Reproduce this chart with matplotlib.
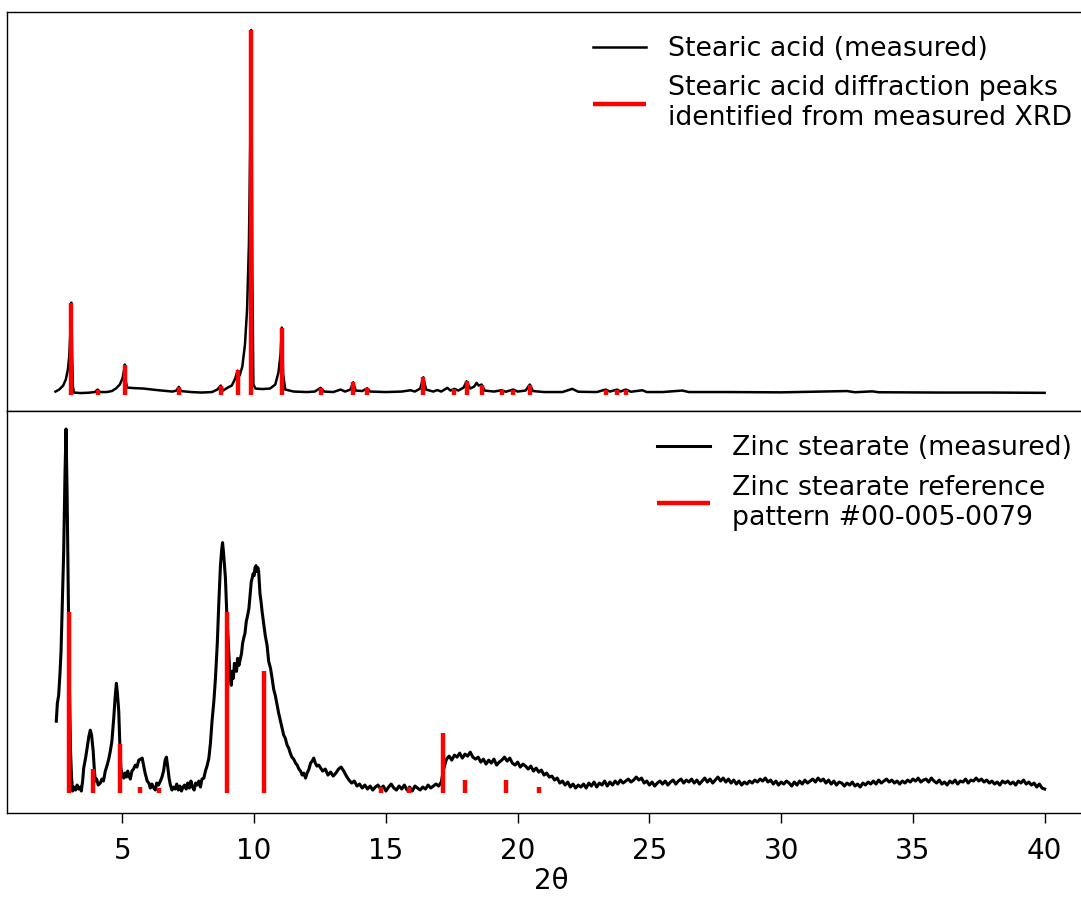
import numpy as np
import matplotlib.pyplot as plt

plt.rcParams['font.family'] = 'DejaVu Sans'
plt.rcParams['font.size'] = 20

# Stearic acid, measured pattern (2theta, intensity in arbitrary units)
sa_x = [2.46, 2.6, 2.75, 2.85, 2.93, 2.98, 3.02, 3.06, 3.09, 3.12, 3.16, 3.4, 3.7, 3.95,
        4.06, 4.15, 4.4, 4.6, 4.75, 4.9, 5.0, 5.06, 5.09, 5.12, 5.18, 5.4, 5.8, 6.3,
        6.9, 7.05, 7.14, 7.22, 7.6, 8.0, 8.4, 8.6, 8.73, 8.82, 9.0, 9.15, 9.28, 9.37,
        9.45, 9.55, 9.65, 9.73, 9.8, 9.85, 9.89, 9.93, 9.97, 10.05, 10.3, 10.6, 10.8,
        10.92, 11.0, 11.05, 11.1, 11.18, 11.5, 12.0, 12.3, 12.52, 12.65, 13.0, 13.28,
        13.45, 13.65, 13.76, 13.85, 14.1, 14.29, 14.4, 15.0, 15.6, 15.93, 16.1, 16.3,
        16.42, 16.52, 16.8, 16.95, 17.1, 17.33, 17.45, 17.6, 17.75, 17.95, 18.06, 18.2,
        18.35, 18.44, 18.52, 18.63, 18.75, 19.1, 19.39, 19.55, 19.83, 20.0, 20.3, 20.46,
        20.58, 21.0, 21.7, 22.07, 22.3, 23.0, 23.34, 23.5, 23.78, 23.9, 24.1, 24.3,
        24.73, 24.9, 25.5, 26.25, 26.5, 28.0, 30.0, 32.5, 32.8, 33.46, 33.7, 36.0,
        38.0, 40.0]
sa_y = [3, 5, 9, 15, 25, 38, 60, 92, 40, 8, 2, 1.5, 1.8, 2.5,
        5, 2.5, 2.5, 3.5, 6, 10, 16, 24, 30, 14, 7, 6.5, 6, 4.5,
        3, 4, 7.7, 3.5, 2.5, 2, 2.5, 5, 9, 4, 7, 9, 16, 24,
        19, 28, 50, 85, 150, 250, 365, 120, 10, 6, 5.5, 6, 10,
        22, 40, 67, 20, 5, 3, 2.5, 3, 6.7, 3, 2.5, 5,
        3, 5, 12.3, 4, 3.5, 6.3, 3, 2.5, 3, 4.3, 3, 6,
        17.3, 5, 3, 4.5, 3, 6.7, 4, 5.7, 4, 7, 13.3, 6,
        8, 11.7, 9, 10, 4, 3, 4.3, 2.8, 5, 3, 4, 10,
        3.5, 2.5, 2.5, 5.7, 2.8, 2.5, 5, 3, 5, 3, 5, 2.8,
        4.3, 2.5, 2.5, 4, 2.5, 2.5, 2.2, 3.5, 2.3, 3.2, 2.3, 2,
        2, 1.7]

# Stearic acid peaks identified from the measured pattern
sa_peak_x = [3.06, 4.06, 5.09, 7.14, 8.73, 9.37, 9.89, 11.05, 12.52, 13.76, 14.29,
             16.42, 17.6, 18.06, 18.63, 19.39, 19.83, 20.46, 23.34, 23.78, 24.1]
sa_peak_y = [92, 5, 30, 7.7, 9, 24.3, 365, 66.7, 6.7, 12.3, 6.3,
             17.3, 5.7, 13.3, 10, 4.3, 5, 10, 5, 5, 5]

# Zinc stearate, measured pattern: low-angle part read point by point
zs_x_low = [2.49, 2.53, 2.58, 2.63, 2.67, 2.72, 2.77, 2.82, 2.86, 2.9, 2.94, 2.98, 3.03,
            3.07, 3.11, 3.16, 3.22, 3.28, 3.34, 3.4, 3.44, 3.49, 3.53, 3.6, 3.66, 3.72,
            3.78, 3.83, 3.89, 3.93, 3.97, 4.02, 4.08, 4.16, 4.22, 4.28, 4.35, 4.42, 4.48,
            4.54, 4.6, 4.67, 4.72, 4.77, 4.81, 4.86, 4.9, 4.94, 5.0, 5.05, 5.1, 5.15, 5.2,
            5.24, 5.3, 5.36, 5.42, 5.49, 5.55, 5.62, 5.69, 5.75, 5.8, 5.86, 5.94, 6.0,
            6.06, 6.12, 6.19, 6.25, 6.3, 6.37, 6.44, 6.5, 6.56, 6.62, 6.67, 6.72, 6.77,
            6.82, 6.88, 6.94, 7.0, 7.06, 7.12, 7.18, 7.24, 7.3, 7.36, 7.42, 7.48, 7.54,
            7.6, 7.66, 7.72, 7.78, 7.84, 7.9, 7.96, 8.02, 8.09, 8.15, 8.22, 8.28, 8.34,
            8.4, 8.47, 8.53, 8.6, 8.66, 8.72, 8.77, 8.8, 8.84, 8.88, 8.91, 8.96, 9.0,
            9.04, 9.08, 9.13, 9.17, 9.21, 9.25, 9.29, 9.33, 9.37, 9.42, 9.48, 9.52, 9.56,
            9.6, 9.65, 9.7, 9.75, 9.8, 9.85, 9.89, 9.92, 9.96, 10.0, 10.03, 10.07, 10.1,
            10.14, 10.17, 10.22, 10.26, 10.3, 10.36, 10.42, 10.49, 10.55, 10.62, 10.68,
            10.74, 10.8, 10.87, 10.93, 11.0, 11.06, 11.12, 11.18, 11.25, 11.31, 11.37,
            11.43, 11.5, 11.57, 11.63, 11.7, 11.76, 11.82, 11.88, 11.95, 12.01, 12.08,
            12.14, 12.2, 12.26, 12.32, 12.38, 12.45]
zs_y_low = [72, 90, 98, 120, 142, 190, 242, 320, 365, 300, 208, 120, 42,
            15, 2, 6, 3, 8, 4, 6, 2, 12, 25, 35, 45, 56,
            63, 58, 42, 25, 12, 14, 8, 10, 14, 12, 22, 28, 34,
            42, 52, 75, 95, 110, 100, 82, 50, 25, 18, 15, 20, 16, 22,
            18, 14, 22, 24, 28, 26, 33, 34, 35, 28, 20, 12, 10,
            5, 9, 5, 3, 10, 8, 12, 16, 22, 33, 36, 26, 15,
            8, 3, 6, 4, 9, 3, 7, 2, 6, 8, 4, 10, 5,
            12, 6, 3, 10, 8, 12, 6, 14, 15, 22, 28, 35, 50,
            72, 92, 115, 150, 192, 228, 245, 251, 240, 225, 215, 180, 160,
            142, 118, 108, 122, 115, 130, 128, 122, 135, 128, 135, 140, 150,
            155, 160, 172, 178, 185, 200, 212, 215, 220, 218, 226, 228, 222,
            226, 222, 200, 192, 182, 170, 158, 148, 132, 125, 115,
            104, 98, 88, 80, 72, 65, 58, 55, 48, 45, 40,
            36, 34, 30, 28, 24, 22, 18, 20, 15, 20, 24,
            30, 32, 35, 30, 27, 28]

# Zinc stearate, measured pattern: 12.5 to 40.0 in steps of 0.1
zs_y_high = [26, 22, 24, 18, 21, 17, 20, 24, 26, 22,
             17, 13, 10, 12, 7, 9, 5, 8, 4, 7,
             3, 6, 8, 4, 7, 2, 6, 9, 5, 3,
             7, 4, 8, 3, 6, 2, 7, 5, 3, 6,
             4, 8, 5, 7, 9, 7, 11, 25, 34, 37,
             33, 38, 36, 40, 35, 39, 37, 41, 36, 34,
             36, 31, 34, 29, 33, 30, 34, 28, 31, 33,
             36, 32, 35, 30, 28, 31, 26, 29, 27, 24,
             27, 22, 25, 21, 23, 18, 20, 16, 17, 13,
             15, 10, 12, 8, 11, 6, 9, 5, 8, 6,
             9, 5, 10, 7, 11, 6, 10, 8, 12, 7,
             11, 8, 12, 9, 13, 10, 12, 14, 11, 13,
             16, 13, 15, 10, 12, 8, 11, 7, 10, 12,
             9, 12, 8, 11, 13, 9, 12, 14, 10, 13,
             11, 14, 10, 13, 9, 12, 15, 11, 14, 10,
             13, 16, 12, 15, 11, 14, 10, 13, 9, 12,
             8, 11, 9, 12, 10, 13, 11, 14, 12, 15,
             11, 13, 9, 12, 8, 11, 9, 12, 10, 7,
             11, 8, 12, 9, 13, 10, 12, 14, 11, 15,
             12, 14, 10, 13, 9, 12, 8, 11, 10, 7,
             10, 8, 11, 7, 9, 6, 10, 8, 11, 9,
             12, 9, 13, 10, 12, 14, 11, 13, 10, 12,
             9, 12, 10, 13, 11, 14, 12, 15, 11, 13,
             14, 11, 15, 12, 10, 13, 9, 11, 8, 12,
             10, 13, 9, 12, 11, 14, 10, 13, 12, 15,
             12, 14, 11, 13, 10, 12, 9, 11, 8, 12,
             10, 12, 9, 11, 8, 12, 10, 13, 9, 11,
             8, 10, 6, 9, 5, 4]
zs_x_high = np.round(12.5 + 0.1 * np.arange(len(zs_y_high)), 1)

# Zinc stearate reference pattern #00-005-0079
ref_x = [2.96, 3.87, 4.89, 5.68, 6.38, 8.97, 10.37, 14.83, 15.88, 17.16, 18.0, 19.57, 20.82]
ref_y = [182, 24, 49, 6, 5, 182, 122, 6, 6, 60, 13, 13, 6]

zs_x = np.concatenate([zs_x_low, zs_x_high])
zs_y = np.concatenate([zs_y_low, zs_y_high])

fig = plt.figure(figsize=(10.81, 9.0), dpi=100)
ax1 = fig.add_axes([0.0065, 0.5433, 1.0074, 0.4434])
ax2 = fig.add_axes([0.0065, 0.0967, 1.0074, 0.4466], sharex=ax1)

ax1.plot(sa_x, sa_y, color='black', lw=1.8, label='Stearic acid (measured)')
ax1.vlines(sa_peak_x, 0, sa_peak_y, color='red', lw=3.2,
           label='Stearic acid diffraction peaks\nidentified from measured XRD')
ax1.legend(loc='upper right', frameon=False, fontsize=19.3)

ax2.plot(zs_x, zs_y, color='black', lw=2.2, label='Zinc stearate (measured)')
ax2.vlines(ref_x, 0, ref_y, color='red', lw=3.2,
           label='Zinc stearate reference\npattern #00-005-0079')
ax2.legend(loc='upper right', frameon=False, fontsize=19.3)

for ax in (ax1, ax2):
    ax.set_yticks([])
    ax.spines['right'].set_visible(False)
    for s in ax.spines.values():
        s.set_linewidth(1.0)

ax1.tick_params(axis='x', bottom=False, labelbottom=False)
ax2.tick_params(axis='x', length=7, width=1.0, pad=10)
ax2.set_xticks([5, 10, 15, 20, 25, 30, 35, 40])
ax2.set_xlim(0.62, 41.95)
ax1.set_ylim(-16.5, 383)
ax2.set_ylim(-20, 383)
ax2.set_xlabel('2θ', labelpad=2)

fig.savefig('out.png', dpi=100)
